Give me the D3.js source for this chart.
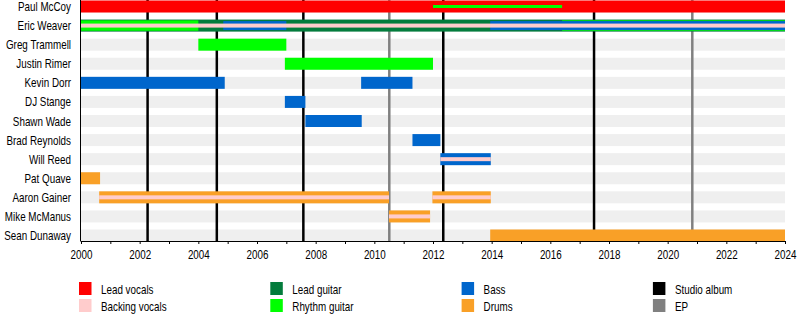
<!DOCTYPE html>
<html>
<head>
<meta charset="utf-8">
<script src="https://cdn.jsdelivr.net/npm/d3@7"></script>
<style>
  html, body { margin: 0; padding: 0; background: #fff; }
  svg { display: block; }
  text { font-family: "Liberation Sans", Arial, sans-serif; font-size: 12px; fill: #000; }
</style>
</head>
<body>
<svg id="chart" width="800" height="330"></svg>
<script>
// ---------- data ----------
const members = ["Paul McCoy", "Eric Weaver", "Greg Trammell", "Justin Rimer", "Kevin Dorr",
  "DJ Stange", "Shawn Wade", "Brad Reynolds", "Will Reed", "Pat Quave", "Aaron Gainer",
  "Mike McManus", "Sean Dunaway"];

const roles = ["Lead vocals", "Backing vocals", "Lead guitar", "Rhythm guitar", "Bass", "Drums"];
const roleColors = ["#ff0000", "#ffcccc", "#037c3c", "#00ff00", "#0066cc", "#f9a027"];

// [member, role, start, end]
const tenures = [
  ["Paul McCoy", "Lead vocals", 2000, 2024],
  ["Paul McCoy", "Rhythm guitar", 2012.0, 2016.4],
  ["Eric Weaver", "Lead guitar", 2000, 2024],
  ["Eric Weaver", "Rhythm guitar", 2000, 2004.0],
  ["Eric Weaver", "Rhythm guitar", 2016.4, 2024],
  ["Eric Weaver", "Bass", 2004.85, 2007.0],
  ["Eric Weaver", "Bass", 2013.95, 2024],
  ["Eric Weaver", "Backing vocals", 2000, 2024],
  ["Greg Trammell", "Rhythm guitar", 2004.0, 2007.0],
  ["Justin Rimer", "Rhythm guitar", 2006.95, 2012.0],
  ["Kevin Dorr", "Bass", 2000, 2004.9],
  ["Kevin Dorr", "Bass", 2009.55, 2011.3],
  ["DJ Stange", "Bass", 2006.95, 2007.65],
  ["Shawn Wade", "Bass", 2007.65, 2009.57],
  ["Brad Reynolds", "Bass", 2011.3, 2012.25],
  ["Will Reed", "Bass", 2012.25, 2013.97],
  ["Will Reed", "Backing vocals", 2012.25, 2013.97],
  ["Pat Quave", "Drums", 2000, 2000.65],
  ["Aaron Gainer", "Drums", 2000.62, 2010.5],
  ["Aaron Gainer", "Backing vocals", 2000.62, 2010.5],
  ["Aaron Gainer", "Drums", 2011.98, 2013.97],
  ["Aaron Gainer", "Backing vocals", 2011.98, 2013.97],
  ["Mike McManus", "Drums", 2010.5, 2011.9],
  ["Mike McManus", "Backing vocals", 2010.5, 2011.9],
  ["Sean Dunaway", "Drums", 2013.95, 2024]
];

const studioAlbums = [2002.27, 2004.63, 2007.58, 2012.35, 2017.49];
const eps = [2010.51, 2020.84];

const tickYears = d3.range(2000, 2025);
const labelYears = d3.range(2000, 2025, 2);

const legendLabels = ["Lead vocals", "Backing vocals", "Lead guitar", "Rhythm guitar", "Bass", "Drums", "Studio album", "EP"];
const legendColors = ["#ff0000", "#ffcccc", "#037c3c", "#00ff00", "#0066cc", "#f9a027", "#000000", "#808080"];

// ---------- layout ----------
const svg = d3.select("#chart");
const x = d3.scaleLinear().domain([2000, 2024]).range([81, 785]);
const y = d3.scalePoint().domain(members).range([6.5, 235.5]).padding(0);
const axisY = 241;
const fullH = 12;
const squeeze = "scale(0.82,1)";
const roleColor = d3.scaleOrdinal().domain(roles).range(roleColors);

// main role = first listed role for each member
const mainRole = {};
tenures.forEach(t => { if (!(t[0] in mainRole)) mainRole[t[0]] = t[1]; });
const secondaryDepth = { "Rhythm guitar": 1, "Bass": 2 };
function bandH(member, role) {
  if (role === mainRole[member]) return fullH;
  if (role === "Backing vocals") return 4;
  if (mainRole[member] === "Lead vocals") return 3;
  return fullH - 1.6 * (secondaryDepth[role] || 1) + (role === "Bass" ? 0.2 : 0);
}

// background stripes
svg.append("g").selectAll("rect").data(members).join("rect")
  .attr("x", x(2000)).attr("width", x(2024) - x(2000))
  .attr("y", d => y(d) - fullH / 2).attr("height", fullH)
  .attr("fill", "#efefef");

// event lines
svg.append("g").selectAll("line").data(studioAlbums.map(v => ({ v, c: "#000" })).concat(eps.map(v => ({ v, c: "#808080" }))))
  .join("line")
  .attr("x1", d => x(d.v)).attr("x2", d => x(d.v))
  .attr("y1", 0).attr("y2", axisY)
  .attr("stroke", d => d.c).attr("stroke-width", 2.5);

// bars (larger first)
const bars = tenures.map(t => ({ member: t[0], role: t[1], start: t[2], end: t[3], h: bandH(t[0], t[1]) }))
  .sort((a, b) => b.h - a.h);
svg.append("g").selectAll("rect").data(bars).join("rect")
  .attr("x", d => x(d.start)).attr("width", d => x(d.end) - x(d.start))
  .attr("y", d => y(d.member) - d.h / 2).attr("height", d => d.h)
  .attr("fill", d => roleColor(d.role));

// member labels
svg.append("g").selectAll("text").data(members).join("text")
  .attr("transform", d => `translate(71,${y(d) + 4.5}) ${squeeze}`)
  .attr("text-anchor", "end")
  .text(d => d);

// axes
const xAxis = d3.axisBottom(x).tickValues(tickYears).tickSize(3)
  .tickFormat(d => labelYears.includes(d) ? d3.format("d")(d) : "");
const gx = svg.append("g").attr("transform", `translate(0,${axisY})`).call(xAxis);
gx.attr("font-size", null).attr("font-family", null);
gx.select(".domain").attr("d", `M${x(2000)},0.5H${x(2024)}`).attr("stroke", "#000");
gx.selectAll(".tick line").attr("stroke", "#000");
gx.selectAll(".tick text").attr("y", null).attr("dy", null)
  .attr("transform", `translate(0,18) ${squeeze}`);

svg.append("line")
  .attr("x1", x(2000) - 0.5).attr("x2", x(2000) - 0.5)
  .attr("y1", 0).attr("y2", axisY + 0.5)
  .attr("stroke", "#000").attr("stroke-width", 1);

// legend
const legend = svg.append("g").selectAll("g").data(legendLabels).join("g")
  .attr("transform", (d, i) => `translate(${79 + Math.floor(i / 2) * 191.3},${282 + (i % 2) * 17})`);
legend.append("rect").attr("width", 12.5).attr("height", 13)
  .attr("fill", (d, i) => legendColors[i]);
legend.append("text").attr("transform", `translate(22,12) ${squeeze}`).text(d => d);
</script>
</body>
</html>
